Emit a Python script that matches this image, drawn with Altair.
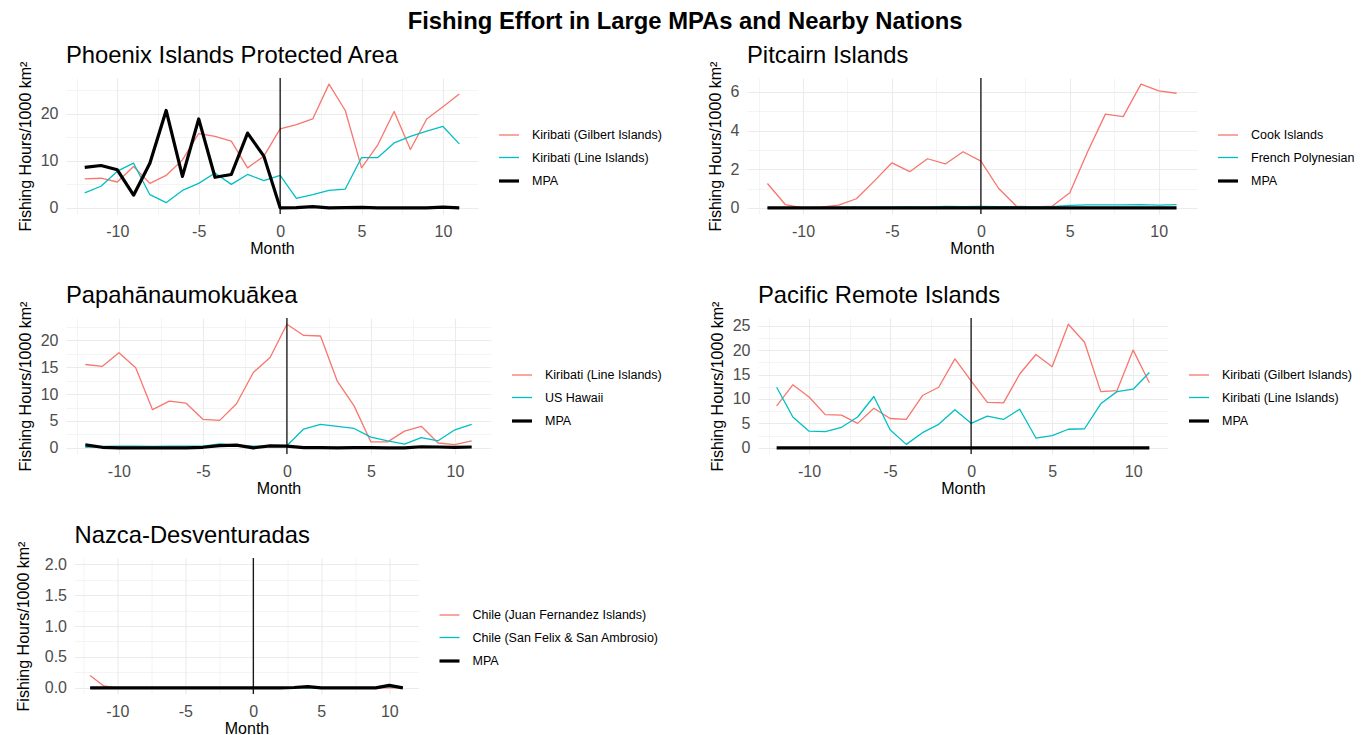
import altair as alt
import pandas as pd

FONT = "Liberation Sans"
RED = "#F8766D"
CYAN = "#00BFC4"

months = list(range(-12, 12))

# Phoenix Islands Protected Area
pipa_names = ["Kiribati (Gilbert Islands)", "Kiribati (Line Islands)", "MPA"]
pipa_gilbert = [6.15, 6.3, 5.5, 8.8, 5.2, 6.9, 10.2, 15.8, 15.2, 14.2, 8.5, 11.0,
                16.8, 17.7, 18.9, 26.3, 20.7, 8.5, 13.4, 20.5, 12.4, 18.9, 21.5, 24.2]
pipa_line = [3.2, 4.6, 7.8, 9.5, 2.8, 1.1, 3.7, 5.2, 7.4, 5.0, 7.1, 5.8,
             6.9, 2.0, 2.8, 3.7, 4.0, 10.7, 10.7, 13.8, 15.2, 16.3, 17.3, 13.6]
pipa_mpa = [8.6, 9.0, 8.1, 2.7, 9.5, 20.7, 6.7, 18.9, 6.5, 7.1, 15.9, 11.0,
            0.0, 0.05, 0.25, 0.0, 0.05, 0.1, 0.0, 0.0, 0.0, 0.0, 0.15, 0.0]

# Pitcairn Islands
pit_names = ["Cook Islands", "French Polynesian", "MPA"]
pit_cook = [1.26, 0.17, 0.0, 0.03, 0.14, 0.47, 1.38, 2.33, 1.87, 2.54, 2.27, 2.9,
            2.42, 1.0, 0.08, 0.05, 0.08, 0.78, 2.9, 4.85, 4.72, 6.4, 6.05, 5.93]
pit_fp = [0.0, 0.0, 0.0, 0.01, 0.02, 0.03, 0.03, 0.04, 0.05, 0.04, 0.07, 0.06,
          0.07, 0.06, 0.06, 0.05, 0.06, 0.13, 0.15, 0.15, 0.15, 0.17, 0.14, 0.17]
pit_mpa = [0.0] * 24

# Papahanaumokuakea
pmnm_names = ["Kiribati (Line Islands)", "US Hawaii", "MPA"]
pmnm_line = [15.5, 15.15, 17.7, 14.9, 7.1, 8.7, 8.3, 5.3, 5.1, 8.2, 14.0, 16.8,
             23.0, 20.9, 20.8, 12.4, 7.8, 1.1, 1.1, 3.1, 4.0, 0.9, 0.6, 1.3]
pmnm_hawaii = [0.1, 0.25, 0.3, 0.3, 0.25, 0.3, 0.3, 0.3, 0.75, 0.45, 0.3, 0.3,
               0.4, 3.5, 4.35, 4.0, 3.6, 2.0, 1.3, 0.7, 1.9, 1.3, 3.35, 4.35]
pmnm_mpa = [0.55, 0.1, 0.0, 0.0, 0.0, 0.0, 0.0, 0.1, 0.4, 0.5, 0.0, 0.35,
            0.3, 0.05, 0.05, 0.0, 0.05, 0.05, 0.0, 0.0, 0.2, 0.15, 0.1, 0.15]

# Pacific Remote Islands
pri_names = ["Kiribati (Gilbert Islands)", "Kiribati (Line Islands)", "MPA"]
pri_gilbert = [8.6, 12.9, 10.4, 6.8, 6.7, 5.0, 8.1, 6.0, 5.8, 10.7, 12.4, 18.2,
               13.7, 9.3, 9.2, 15.1, 19.1, 16.6, 25.3, 21.6, 11.5, 11.7, 20.0, 13.3]
pri_line = [12.4, 6.3, 3.4, 3.3, 4.2, 6.3, 10.5, 3.7, 0.7, 3.1, 4.8, 7.8,
            5.0, 6.5, 5.8, 7.9, 2.0, 2.5, 3.8, 3.9, 9.0, 11.5, 12.0, 15.4]
pri_mpa = [0.0] * 24

# Nazca-Desventuradas
nd_names = ["Chile (Juan Fernandez Islands)", "Chile (San Felix & San Ambrosio)", "MPA"]
nd_jf = [0.2, 0.03, 0.0, 0.0, 0.0, 0.0, 0.0, 0.0, 0.0, 0.0, 0.0, 0.0,
         0.0, 0.0, 0.0, 0.0, 0.0, 0.0, 0.0, 0.0, 0.0, 0.0, 0.0, 0.0]
nd_sf = [0.0, 0.0, 0.0, 0.0, 0.0, 0.0, 0.0, 0.0, 0.0, 0.0, 0.0, 0.0,
         0.0, 0.0, 0.0, 0.0, 0.0, 0.0, 0.0, 0.0, 0.0, 0.0, 0.02, 0.0]
nd_mpa = [0.0, 0.0, 0.0, 0.0, 0.0, 0.0, 0.0, 0.0, 0.0, 0.0, 0.0, 0.0,
          0.0, 0.0, 0.0, 0.005, 0.02, 0.0, 0.0, 0.0, 0.0, 0.0, 0.04, 0.0]

X_DOMAIN = [-13.15, 12.15]
X_VALUES = [-12.5, -10, -7.5, -5, -2.5, 0, 2.5, 5, 7.5, 10]
PANEL_H = 136


def panel(title, names, series, ydom, yvals, ystep, yfmt, width, ytitle_pad=7):
    rows = []
    for name, vals in zip(names, series):
        for m, v in zip(months, vals):
            rows.append({"Month": m, "value": v, "series": name})
    df = pd.DataFrame(rows)

    legend = alt.Legend(
        title=None, orient="none", legendX=width + 19, legendY=46,
        symbolType="stroke", symbolSize=400, labelFontSize=12.5, labelLimit=400,
        labelFont=FONT, labelColor="black", rowPadding=4.5, labelOffset=11, padding=0,
    )
    color = alt.Color("series:N",
                      scale=alt.Scale(domain=names, range=[RED, CYAN, "black"]),
                      legend=legend)
    sw = alt.StrokeWidth("series:N",
                         scale=alt.Scale(type="ordinal", domain=names, range=[1.3, 1.3, 3.2]),
                         legend=legend)
    xscale = alt.Scale(domain=X_DOMAIN, nice=False, zero=False)
    yscale = alt.Scale(domain=ydom, nice=False, zero=False)
    if yfmt == "f1":
        ylab = f"abs(datum.value % {ystep}) < 1e-9 ? format(datum.value, '.1f') : ''"
    else:
        ylab = f"abs(datum.value % {ystep}) < 1e-9 ? toString(datum.value) : ''"
    xaxis = alt.Axis(
        title="Month", values=X_VALUES,
        labelExpr="datum.value % 5 === 0 ? toString(datum.value) : ''",
        gridWidth={"condition": {"test": "datum.value % 5 === 0", "value": 1.1}, "value": 0.55},
        labelPadding=9, titlePadding=1, labelOverlap=False, labelFlush=False,
    )
    yaxis = alt.Axis(
        title="Fishing Hours/1000 km²", values=yvals, labelExpr=ylab,
        gridWidth={"condition": {"test": f"abs(datum.value % {ystep}) < 1e-9", "value": 1.1}, "value": 0.55},
        labelPadding=8, titlePadding=ytitle_pad, labelOverlap=False, labelFlush=False,
    )
    base = alt.Chart(df)
    countries = base.transform_filter(alt.datum.series != "MPA").mark_line(
        strokeJoin="round").encode(
        x=alt.X("Month:Q", scale=xscale, axis=xaxis),
        y=alt.Y("value:Q", scale=yscale, axis=yaxis),
        color=color, strokeWidth=sw, detail="series:N",
    )
    mpa = base.transform_filter(alt.datum.series == "MPA").mark_line(
        strokeJoin="round").encode(
        x=alt.X("Month:Q", scale=xscale, axis=xaxis),
        y=alt.Y("value:Q", scale=yscale, axis=yaxis),
        color=color, strokeWidth=sw,
    )
    vline = alt.Chart(pd.DataFrame({"Month": [0]})).mark_rule(
        color="black", strokeWidth=1.2).encode(x=alt.X("Month:Q", scale=xscale, axis=xaxis))
    return alt.layer(countries, mpa, vline).properties(
        width=width, height=PANEL_H,
        title=alt.TitleParams(title, anchor="start", frame="group", fontSize=23.8,
                              font=FONT, fontWeight="normal", color="black", offset=-7),
    )


p1 = panel("Phoenix Islands Protected Area", pipa_names, [pipa_gilbert, pipa_line, pipa_mpa],
           [-1.3, 27.6], [0, 5, 10, 15, 20, 25], 10, "int", 412)
p2 = panel("Pitcairn Islands", pit_names, [pit_cook, pit_fp, pit_mpa],
           [-0.32, 6.72], [0, 1, 2, 3, 4, 5, 6], 2, "int", 450)
p3 = panel("Papahānaumokuākea", pmnm_names, [pmnm_line, pmnm_hawaii, pmnm_mpa],
           [-1.15, 24.15], [0, 2.5, 5, 7.5, 10, 12.5, 15, 17.5, 20, 22.5], 5, "int", 425)
p4 = panel("Pacific Remote Islands", pri_names, [pri_gilbert, pri_line, pri_mpa],
           [-1.27, 26.57], [0, 2.5, 5, 7.5, 10, 12.5, 15, 17.5, 20, 22.5, 25], 5, "int", 410)
p5 = panel("Nazca-Desventuradas", nd_names, [nd_jf, nd_sf, nd_mpa],
           [-0.1, 2.1], [0, 0.25, 0.5, 0.75, 1.0, 1.25, 1.5, 1.75, 2.0], 0.5, "f1", 344,
           ytitle_pad=13)

# invisible spacer that nudges the last panel to the right
spacer = alt.Chart(pd.DataFrame({"a": [0]})).mark_point(opacity=0).encode(
    x=alt.X("a:Q", axis=None), y=alt.Y("a:Q", axis=None)
).properties(width=1, height=1)

ind = dict(color="independent", strokeWidth="independent", x="independent", y="independent")
inda = dict(x="independent", y="independent")
row1 = alt.hconcat(p1, p2, spacing=45).resolve_scale(**ind).resolve_axis(**inda)
row2 = alt.hconcat(p3, p4, spacing=47).resolve_scale(**ind).resolve_axis(**inda)
row3 = alt.hconcat(spacer, p5, spacing=-55.5).resolve_scale(**ind).resolve_axis(**inda)

chart = alt.vconcat(row1, row2, row3, spacing=28).resolve_scale(**ind).resolve_axis(**inda).properties(
    title=alt.TitleParams("Fishing Effort in Large MPAs and Nearby Nations",
                          fontSize=23.8, fontWeight="bold", font=FONT, anchor="middle",
                          color="black", offset=10),
    padding={"left": 7, "top": 2, "right": 0, "bottom": 0},
).configure(background="white").configure_view(stroke=None).configure_axis(
    domain=False, ticks=False, gridColor="#EBEBEB",
    labelFont=FONT, labelFontSize=16, labelColor="#4D4D4D",
    titleFont=FONT, titleFontSize=16, titleFontWeight="normal", titleColor="black",
)

chart.save("out.html", embed_options={"renderer": "svg", "actions": False})
